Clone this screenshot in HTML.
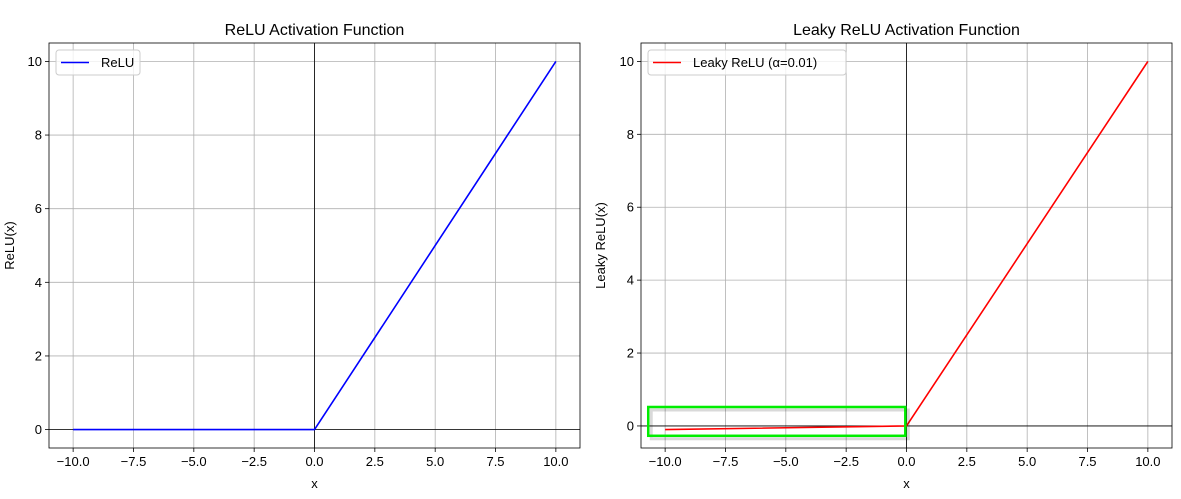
<!DOCTYPE html>
<html><head><meta charset="utf-8"><style>
body{margin:0;background:#fff;}
svg{font-family:"Liberation Sans","DejaVu Sans",sans-serif;}
</style></head><body>
<svg id="s" width="1181" height="494" xmlns="http://www.w3.org/2000/svg"></svg>
<script>
const xTicks=[-10,-7.5,-5,-2.5,0,2.5,5,7.5,10];
const xTickLabels=["−10.0","−7.5","−5.0","−2.5","0.0","2.5","5.0","7.5","10.0"];
const yTicks=[0,2,4,6,8,10];
const yTickLabels=["0","2","4","6","8","10"];
const reluX=[-10,0,10];
const reluY=[0,0,10];
const leakyX=[-10,0,10];
const leakyY=[-0.1,0,10];
const highlightBox=[-10.7,-0.05,-0.27,0.52];
const NS="http://www.w3.org/2000/svg";
const svg=document.getElementById('s');
function mk(tag,attrs,parent,name){const e=document.createElementNS(NS,tag);for(const k in attrs)e.setAttribute(k,attrs[k]);


(parent||svg).appendChild(e);return e;}
function panel(p){
 const g=mk('g',{},svg,p.name);
 const sx=v=>p.x0+(v-p.xmin)/(p.xmax-p.xmin)*(p.x1-p.x0);
 const sy=v=>p.y1-(v-p.ymin)/(p.ymax-p.ymin)*(p.y1-p.y0);
 xTicks.forEach((t,i)=>{
  mk('line',{x1:sx(t),x2:sx(t),y1:p.y0,y2:p.y1,stroke:'#b0b0b0','stroke-width':0.8},g,'x-grid-line');
  mk('line',{x1:sx(t),x2:sx(t),y1:p.y1,y2:p.y1+4,stroke:'#000','stroke-width':0.8},g,'x-tick');
  const t2=mk('text',{x:sx(t),y:p.y1+18,'text-anchor':'middle','font-size':13},g,'x-tick-label');t2.textContent=xTickLabels[i];
 });
 yTicks.forEach((t,i)=>{
  mk('line',{x1:p.x0,x2:p.x1,y1:sy(t),y2:sy(t),stroke:'#b0b0b0','stroke-width':0.8},g,'y-grid-line');
  mk('line',{x1:p.x0-4,x2:p.x0,y1:sy(t),y2:sy(t),stroke:'#000','stroke-width':0.8},g,'y-tick');
  const t2=mk('text',{x:p.x0-7,y:sy(t)+4.5,'text-anchor':'end','font-size':13},g,'y-tick-label');t2.textContent=yTickLabels[i];
 });
 mk('line',{x1:p.x0,x2:p.x1,y1:sy(0),y2:sy(0),stroke:'#000','stroke-width':0.8},g,'zero-hline');
 mk('line',{x1:sx(0),x2:sx(0),y1:p.y0,y2:p.y1,stroke:'#000','stroke-width':0.8},g,'zero-vline');
 const pts=p.xs.map((v,i)=>sx(v)+','+sy(p.ys[i])).join(' ');
 mk('polyline',{points:pts,fill:'none',stroke:p.color,'stroke-width':1.6},g,'series-line');
 if(p.box){const b=p.box;
  mk('rect',{x:sx(b[0])+3,y:sy(b[3])+3,width:sx(b[1])-sx(b[0]),height:sy(b[2])-sy(b[3]),fill:'none',stroke:'rgba(0,0,0,0.15)','stroke-width':3},g,'highlight-shadow');
  mk('rect',{x:sx(b[0]),y:sy(b[3]),width:sx(b[1])-sx(b[0]),height:sy(b[2])-sy(b[3]),fill:'none',stroke:'#00ee00','stroke-width':2.5},g,'highlight-box');
 }
 mk('rect',{x:p.x0,y:p.y0,width:p.x1-p.x0,height:p.y1-p.y0,fill:'none',stroke:'#000','stroke-width':0.8},g,'axes-frame');
 const tt=mk('text',{x:(p.x0+p.x1)/2,y:35,'text-anchor':'middle','font-size':16},g,'chart-title');tt.textContent=p.title;
 const xl=mk('text',{x:(p.x0+p.x1)/2,y:488,'text-anchor':'middle','font-size':13},g,'x-axis-title');xl.textContent='x';
 const yl=mk('text',{x:0,y:0,'text-anchor':'middle','font-size':13,transform:`translate(${p.ylx},${(p.y0+p.y1)/2}) rotate(-90)`},g,'y-axis-title');yl.textContent=p.ylabel;
 const lg=mk('g',{},g,'legend');
 mk('rect',{x:p.x0+7,y:p.y0+7,width:p.legW,height:25,rx:3,fill:'#fff','fill-opacity':0.8,stroke:'#ccc','stroke-width':1},lg,'legend-box');
 mk('line',{x1:p.x0+12,x2:p.x0+40,y1:p.y0+19.5,y2:p.y0+19.5,stroke:p.color,'stroke-width':1.6},lg,'legend-swatch');
 const lt=mk('text',{x:p.x0+52,y:p.y0+24,'font-size':13},lg,'legend-entry');lt.textContent=p.legend;
}
panel({name:'relu-panel',x0:49,x1:580,y0:43,y1:448,xmin:-11,xmax:11,ymin:-0.5,ymax:10.5,xs:reluX,ys:reluY,color:'#0000ff',title:'ReLU Activation Function',ylabel:'ReLU(x)',ylx:14,legend:'ReLU',legW:84});
panel({name:'leaky-relu-panel',x0:641,x1:1172,y0:43,y1:448,xmin:-11,xmax:11,ymin:-0.605,ymax:10.505,xs:leakyX,ys:leakyY,color:'#ff0000',title:'Leaky ReLU Activation Function',ylabel:'Leaky ReLU(x)',ylx:605,legend:'Leaky ReLU (α=0.01)',legW:198,box:highlightBox});
</script>
</body></html>
